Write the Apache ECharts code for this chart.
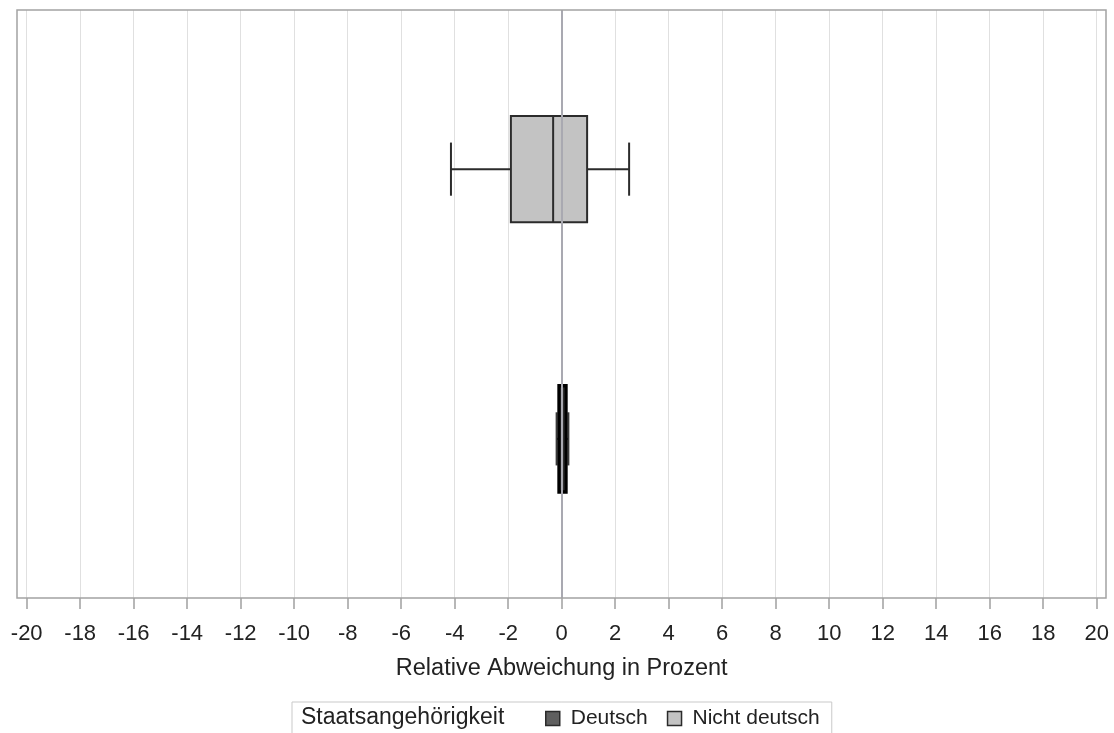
<!DOCTYPE html>
<html>
<head>
<meta charset="utf-8">
<script src="https://cdn.jsdelivr.net/npm/echarts@6/dist/echarts.min.js"></script>
<style>
html,body{margin:0;padding:0;background:#fff;}
#chart{width:1114px;height:733px;}
</style>
</head>
<body>
<div id="chart"></div>
<script>
// ---- data ----
const groups = ['Nicht deutsch', 'Deutsch'];
const whiskerLow  = [-4.14, -0.19];
const q1          = [-1.90, -0.10];
const median      = [-0.32, 0.03];
const q3          = [0.95, 0.16];
const whiskerHigh = [2.52, 0.25];
const xTicks = [-20,-18,-16,-14,-12,-10,-8,-6,-4,-2,0,2,4,6,8,10,12,14,16,18,20];
const xTitle = 'Relative Abweichung in Prozent';
const legendTitle = 'Staatsangehörigkeit';
const legendOrder = ['Deutsch', 'Nicht deutsch'];

// ---- styles ----
const fillColors = { 'Deutsch': '#5f5f5f', 'Nicht deutsch': '#c3c3c3' };
const edgeColors = { 'Deutsch': '#000000', 'Nicht deutsch': '#2b2b2b' };
const edgeWidths = { 'Deutsch': 3.4, 'Nicht deutsch': 2 };
const whiskerColors = { 'Deutsch': '#3a3a3a', 'Nicht deutsch': '#2b2b2b' };
const FONT = '"Liberation Sans", Arial, sans-serif';

const chart = echarts.init(document.getElementById('chart'), null, { renderer: 'canvas' });

function makeRenderer(edge, lw, wc) {
  return function (params, api) {
    const y = api.value(0);
    const half = 0.197;
    const pLo = api.coord([api.value(1), y]);
    const pQ1 = api.coord([api.value(2), y]);
    const pMd = api.coord([api.value(3), y]);
    const pQ3 = api.coord([api.value(4), y]);
    const pHi = api.coord([api.value(5), y]);
    const top = api.coord([0, y - half])[1];
    const bot = api.coord([0, y + half])[1];
    const cTop = api.coord([0, y - half / 2])[1];
    const cBot = api.coord([0, y + half / 2])[1];
    const yTop = Math.min(top, bot), h = Math.abs(bot - top);
    const yc = pMd[1];
    const ls = { stroke: wc, lineWidth: 2 };
    return {
      type: 'group',
      children: [
        { type: 'line', shape: { x1: pLo[0], y1: yc, x2: pQ1[0], y2: yc }, style: ls },
        { type: 'line', shape: { x1: pQ3[0], y1: yc, x2: pHi[0], y2: yc }, style: ls },
        { type: 'line', shape: { x1: pLo[0], y1: Math.min(cTop, cBot), x2: pLo[0], y2: Math.max(cTop, cBot) }, style: ls },
        { type: 'line', shape: { x1: pHi[0], y1: Math.min(cTop, cBot), x2: pHi[0], y2: Math.max(cTop, cBot) }, style: ls },
        { type: 'rect', shape: { x: pQ1[0], y: yTop, width: pQ3[0] - pQ1[0], height: h },
          style: { fill: api.visual('color'), stroke: edge, lineWidth: lw } },
        { type: 'line', shape: { x1: pMd[0], y1: yTop, x2: pMd[0], y2: yTop + h }, style: { stroke: edge, lineWidth: Math.min(lw, 2) } }
      ]
    };
  };
}

const boxSeries = groups.map((g, i) => ({
  name: g,
  type: 'custom',
  z: 3,
  renderItem: makeRenderer(edgeColors[g], edgeWidths[g], whiskerColors[g]),
  itemStyle: { color: fillColors[g] },
  encode: { x: [1, 2, 3, 4, 5], y: 0 },
  data: [[i + 1, whiskerLow[i], q1[i], median[i], q3[i], whiskerHigh[i]]]
}));

const option = {
  animation: false,
  backgroundColor: '#ffffff',
  grid: { left: 26.7, right: 17.3, top: 10, bottom: 135, containLabel: false },
  xAxis: {
    type: 'value',
    min: -20, max: 20, interval: 2,
    name: xTitle,
    nameLocation: 'middle',
    nameGap: 59,
    nameTextStyle: { fontFamily: FONT, fontSize: 23.5, color: '#222' },
    axisLine: { show: false },
    axisTick: { show: true, length: 11, lineStyle: { color: '#a0a0a0', width: 1.5 } },
    axisLabel: { margin: 25, fontFamily: FONT, fontSize: 22, color: '#222',
      formatter: v => (xTicks.indexOf(v) >= 0 ? String(v) : '') },
    splitLine: { show: true, lineStyle: { color: '#e0e0e0', width: 1 } }
  },
  yAxis: {
    type: 'value', min: 0.41, max: 2.59, inverse: true,
    show: false, splitLine: { show: false }
  },
  legend: {
    left: 292, top: 702,
    orient: 'horizontal',
    padding: [6, 12, 12, 253],
    itemGap: 19,
    itemWidth: 14, itemHeight: 14,
    borderColor: '#c9c9c9', borderWidth: 1,
    textStyle: { fontFamily: FONT, fontSize: 21, color: '#222', padding: [0, 0, 0, 6] },
    data: legendOrder.map(n => ({
      name: n, icon: 'rect',
      itemStyle: { color: fillColors[n], borderColor: '#2b2b2b', borderWidth: 1.5 }
    }))
  },
  graphic: [
    { type: 'rect', z: 10, silent: true,
      shape: { x: 17, y: 10, width: 1089, height: 588 },
      style: { fill: 'none', stroke: '#a3a3a3', lineWidth: 1.5 } },
    { type: 'text', z: 10, x: 301, y: 718,
      style: { text: legendTitle, fontFamily: FONT, fontSize: 23, fill: '#222', verticalAlign: 'middle' } }
  ],
  series: [
    { type: 'line', z: 1, data: [], silent: true,
      markLine: { silent: true, symbol: 'none', label: { show: false },
        lineStyle: { color: '#a9a9b1', width: 2, type: 'solid' },
        data: [{ xAxis: 0 }] } },
    ...boxSeries
  ]
};
chart.setOption(option);
</script>
</body>
</html>
